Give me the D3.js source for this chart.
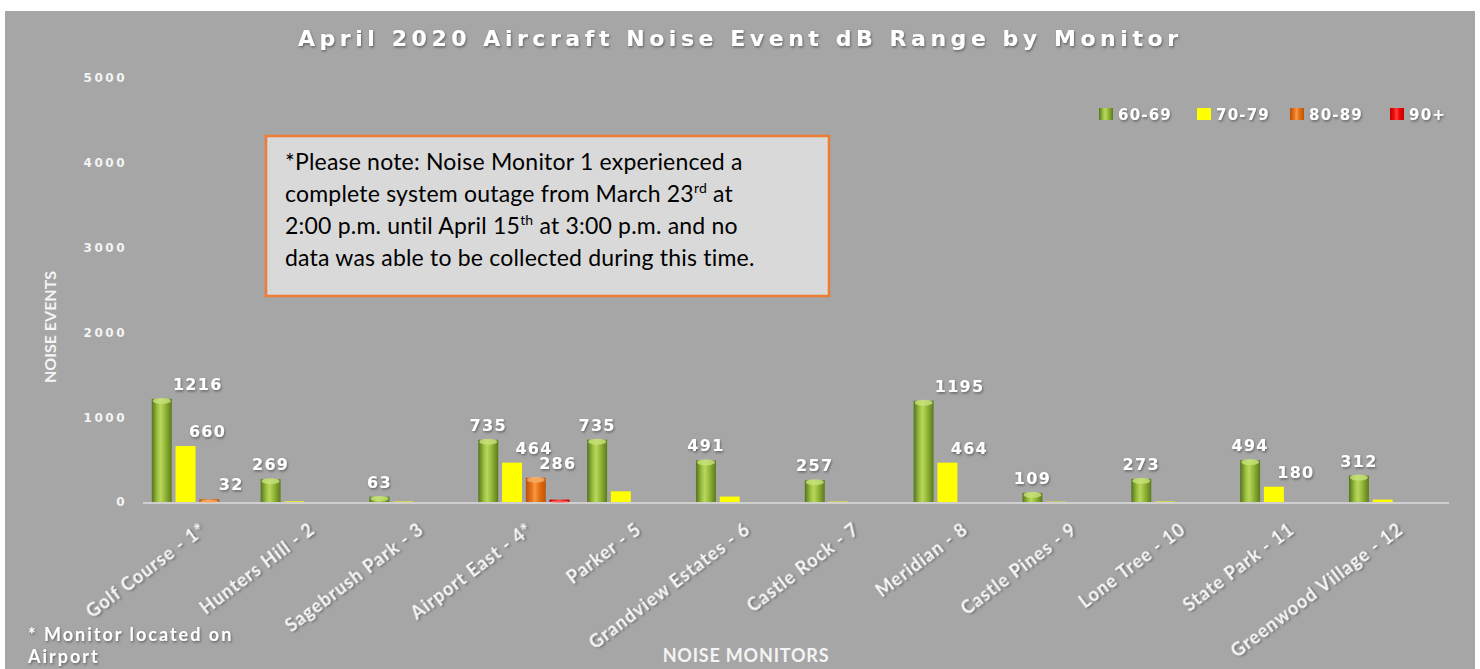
<!DOCTYPE html>
<html>
<head>
<meta charset="utf-8">
<script src="https://cdn.jsdelivr.net/npm/d3@7"></script>
<style>
  body { margin: 0; background: #fff; }
  figure { margin: 0; }
</style>
</head>
<body>
<figure id="noiseChart"></figure>
<script>
// categories and values
var monitors = ["Golf Course - 1*", "Hunters Hill - 2", "Sagebrush Park - 3", "Airport East - 4*",
  "Parker - 5", "Grandview Estates - 6", "Castle Rock - 7", "Meridian - 8", "Castle Pines - 9",
  "Lone Tree - 10", "State Park - 11", "Greenwood Village - 12"];
var ranges = ["60-69", "70-79", "80-89", "90+"];
var db60 = [1216, 269, 63, 735, 735, 491, 257, 1195, 109, 273, 494, 312];
var db70 = [660, 8, 6, 464, 126, 64, 5, 464, 4, 6, 180, 28];
var db80 = [32, 0, 0, 286, 0, 0, 0, 0, 0, 0, 0, 0];
var db90 = [0, 0, 0, 28, 0, 0, 0, 0, 0, 0, 0, 0];
var yTicks = [0, 1000, 2000, 3000, 4000, 5000];
// which values got a data label in the original (1 = shown)
var show60 = [1, 1, 1, 1, 1, 1, 1, 1, 1, 1, 1, 1];
var show70 = [1, 0, 0, 1, 0, 0, 0, 1, 0, 0, 1, 0];
var show80 = [1, 0, 0, 1, 0, 0, 0, 0, 0, 0, 0, 0];
var show90 = [0, 0, 0, 0, 0, 0, 0, 0, 0, 0, 0, 0];

var series = [db60, db70, db80, db90];
var shown = [show60, show70, show80, show90];

var W = 1480, H = 669;

var svg = d3.select("figure#noiseChart")
  .append("svg")
  .attr("width", W)
  .attr("height", H)
  .style("font-family", "'DejaVu Sans', Verdana, sans-serif");

var defs = svg.append("defs");

// soft dark shadow under the white text
var shadow = defs.append("filter").attr("id", "txtShadow")
  .attr("x", "-10%").attr("y", "-30%").attr("width", "130%").attr("height", "160%");
shadow.append("feDropShadow").attr("dx", 1).attr("dy", 1.5).attr("stdDeviation", 1)
  .attr("flood-color", "#4a4a4a").attr("flood-opacity", 0.7);

// cylinder shading per series
var shades = [
  ["#55731b", "#9fc444", "#b9d75d", "#8fb234", "#5a7a1d"],
  ["#e8e800", "#ffff10", "#ffff30", "#ffff00", "#ecec00"],
  ["#b8520a", "#e9741c", "#f59a4a", "#e46c0a", "#b9560c"],
  ["#c00000", "#f01010", "#ff4040", "#ee0000", "#c40000"]
];
var tops = ["#c8e27a", "#ffff80", "#f8b06a", "#ff6a6a"];
shades.forEach(function(s, i) {
  var g = defs.append("linearGradient").attr("id", "bar" + i)
    .attr("x1", "0%").attr("x2", "100%").attr("y1", "0%").attr("y2", "0%");
  [0, 30, 45, 70, 100].forEach(function(o, k) {
    g.append("stop").attr("offset", o + "%").attr("stop-color", s[k]);
  });
});

// plot background
svg.append("rect").attr("x", 5).attr("y", 11).attr("width", W - 10).attr("height", H - 11)
  .attr("fill", "#a6a6a6");

// scales
var x0 = d3.scaleBand().domain(monitors).range([143, 1449]);
var x1 = d3.scaleBand().domain(ranges).range([0, x0.bandwidth()])
  .paddingInner(0.16).paddingOuter(0.37);
var y = d3.scaleLinear().domain([0, 5000]).range([502, 78]);

// floor line
svg.append("line")
  .attr("x1", x0.range()[0]).attr("x2", x0.range()[1])
  .attr("y1", y(0) + 1).attr("y2", y(0) + 1)
  .attr("stroke", "#cfcfcf").attr("stroke-width", 2);

// y axis, labels only
var yAxis = svg.append("g")
  .attr("transform", "translate(127,0)")
  .call(d3.axisLeft(y).tickValues(yTicks).tickFormat(d3.format("d")).tickSize(0).tickPadding(0));
yAxis.select(".domain").remove();
yAxis.selectAll("text")
  .attr("fill", "#f4f4f4")
  .style("font-size", "12px")
  .style("font-weight", "bold")
  .style("letter-spacing", "2.5px")
  .style("font-family", "'DejaVu Sans', sans-serif");

// x axis, rotated monitor names
var xAxis = svg.append("g")
  .attr("transform", "translate(0," + (y(0) + 10) + ")")
  .call(d3.axisBottom(x0).tickSize(0).tickPadding(0));
xAxis.select(".domain").remove();
xAxis.selectAll("text")
  .attr("fill", "#f6f6f6")
  .attr("text-anchor", "end")
  .attr("dy", 0)
  .attr("transform", "translate(10,20) rotate(-37)")
  .style("font-family", "Lato, sans-serif")
  .style("font-size", "18px")
  .style("font-weight", "bold")
  .style("letter-spacing", "1px")
  .attr("filter", "url(#txtShadow)");

// bars
var groups = svg.append("g").selectAll("g")
  .data(monitors)
  .enter().append("g")
  .attr("transform", function(d) { return "translate(" + x0(d) + ",0)"; });

ranges.forEach(function(r, si) {
  var bw = x1.bandwidth();
  groups.append("rect")
    .attr("x", x1(r))
    .attr("y", function(d, i) { return y(series[si][i]); })
    .attr("width", bw)
    .attr("height", function(d, i) { return y(0) - y(series[si][i]); })
    .attr("fill", si == 1 ? "#ffff00" : "url(#bar" + si + ")")
    .style("display", function(d, i) { return series[si][i] > 0 ? null : "none"; });

  // rounded lit top of each column
  if (si != 1) {
    groups.append("ellipse")
      .attr("cx", x1(r) + bw / 2)
      .attr("cy", function(d, i) { return y(series[si][i]) + 2; })
      .attr("rx", bw / 2 - 1)
      .attr("ry", function(d, i) { return Math.min(3, (y(0) - y(series[si][i])) / 2); })
      .attr("fill", tops[si])
      .attr("opacity", 0.8)
      .style("display", function(d, i) { return series[si][i] > 0 ? null : "none"; });
  }

  // value labels
  groups.append("text")
    .attr("x", function(d, i) {
      var off = si > 0 ? 22 : (series[si][i] > 1000 ? 36 : 0);
      return x1(r) + bw / 2 + off;
    })
    .attr("y", function(d, i) { return y(series[si][i]) - 9; })
    .attr("text-anchor", "middle")
    .attr("fill", "#ffffff")
    .style("font-size", "16px")
    .style("font-weight", "bold")
    .style("letter-spacing", "1.3px")
    .attr("filter", "url(#txtShadow)")
    .text(function(d, i) { return shown[si][i] ? series[si][i] : ""; });
});

// title
svg.append("text")
  .attr("x", 738).attr("y", 46)
  .attr("text-anchor", "middle")
  .attr("fill", "#ffffff")
  .attr("textLength", 880)
  .attr("lengthAdjust", "spacing")
  .style("font-size", "22px")
  .style("font-weight", "bold")
  .attr("filter", "url(#txtShadow)")
  .text("April 2020 Aircraft Noise Event dB Range by Monitor");

// axis titles
svg.append("text")
  .attr("transform", "translate(56,327) rotate(-90)")
  .attr("text-anchor", "middle")
  .attr("fill", "#f4f4f4")
  .style("font-family", "Lato, sans-serif")
  .style("font-size", "16px")
  .style("font-weight", "bold")
  .text("NOISE EVENTS");

svg.append("text")
  .attr("x", 746).attr("y", 662)
  .attr("text-anchor", "middle")
  .attr("fill", "#f4f4f4")
  .style("font-family", "Lato, sans-serif")
  .style("font-size", "18px")
  .style("font-weight", "bold")
  .style("letter-spacing", "0.8px")
  .text("NOISE MONITORS");

// footnote
var foot = svg.append("text")
  .attr("fill", "#ffffff")
  .style("font-family", "Lato, sans-serif")
  .style("font-size", "18px")
  .style("font-weight", "bold")
  .style("letter-spacing", "2px")
  .attr("filter", "url(#txtShadow)");
foot.append("tspan").attr("x", 28).attr("y", 641).text("* Monitor located on");
foot.append("tspan").attr("x", 28).attr("y", 663).text("Airport");

// legend
var leg = svg.append("g").selectAll("g")
  .data(ranges)
  .enter().append("g")
  .attr("transform", function(d, i) { return "translate(" + [1099, 1197, 1290, 1390][i] + ",108)"; });
leg.append("rect")
  .attr("width", 14).attr("height", 12)
  .attr("fill", function(d, i) { return i == 1 ? "#ffff00" : "url(#bar" + i + ")"; });
leg.append("text")
  .attr("x", 19).attr("y", 12)
  .attr("fill", "#ffffff")
  .style("font-size", "15px")
  .style("font-weight", "bold")
  .style("letter-spacing", "1.2px")
  .attr("filter", "url(#txtShadow)")
  .text(function(d) { return d; });

// note box
svg.append("rect")
  .attr("x", 266).attr("y", 136).attr("width", 563).attr("height", 160)
  .attr("fill", "#d9d9d9")
  .attr("stroke", "#ed7d31").attr("stroke-width", 2.5);

var note = svg.append("text")
  .attr("fill", "#000000")
  .style("font-family", "Lato, sans-serif")
  .style("font-size", "23px")
  .style("letter-spacing", "0.2px");
note.append("tspan").attr("x", 285).attr("y", 170)
  .text("*Please note: Noise Monitor 1 experienced a");
note.append("tspan").attr("x", 285).attr("y", 202)
  .text("complete system outage from March 23");
note.append("tspan").attr("dy", -9).style("font-size", "14px").text("rd");
note.append("tspan").attr("dy", 9).text(" at");
note.append("tspan").attr("x", 285).attr("y", 234)
  .text("2:00 p.m. until April 15");
note.append("tspan").attr("dy", -9).style("font-size", "14px").text("th");
note.append("tspan").attr("dy", 9).text(" at 3:00 p.m. and no");
note.append("tspan").attr("x", 285).attr("y", 266)
  .text("data was able to be collected during this time.");
</script>
</body>
</html>
